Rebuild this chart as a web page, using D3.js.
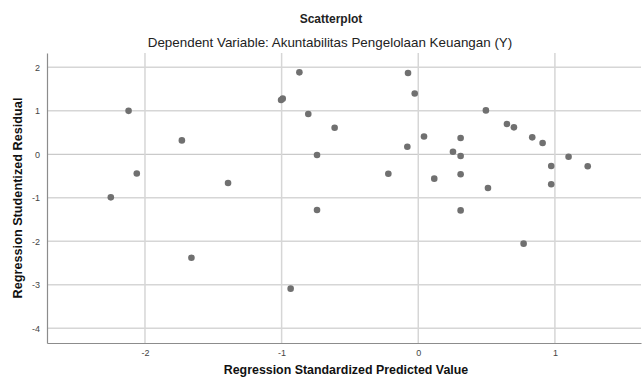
<!DOCTYPE html>
<html>
<head>
<meta charset="utf-8">
<script src="https://cdn.jsdelivr.net/npm/d3@7"></script>
<style>
  body { margin: 0; background: #fff; }
  svg { display: block; font-family: "Liberation Sans", Arial, sans-serif; }
</style>
</head>
<body>
<div class="chart"></div>
<script>
// Regression standardized predicted value (x) and studentized residual (y)
var predicted = [-2.12, -1.73, -2.06, -2.25, -1.66,
  -0.87, -0.075, -0.026, -1.004, -0.992,
  -0.805, -0.612, 0.042, -0.08, -0.741, -0.219, -1.392, -0.741, -0.934,
  0.31, 0.254, 0.31, 0.117, 0.31, 0.31, 0.495, 0.51, 0.649, 0.70,
  0.834, 0.91, 0.973, 0.973, 1.10, 1.24, 0.771];
var residual = [1.0, 0.32, -0.44, -0.99, -2.38,
  1.885, 1.87, 1.40, 1.25, 1.28,
  0.926, 0.61, 0.41, 0.175, -0.016, -0.446, -0.66, -1.28, -3.09,
  0.375, 0.06, -0.04, -0.56, -0.46, -1.29, 1.01, -0.775, 0.697, 0.62,
  0.39, 0.26, -0.27, -0.69, -0.055, -0.276, -2.055];
var xTicks = [-2, -1, 0, 1];
var yTicks = [2, 1, 0, -1, -2, -3, -4];

var W = 643, H = 378;
var margin = {top: 53, right: 2, bottom: 35, left: 47},
width = W - margin.left - margin.right,
height = H - margin.top - margin.bottom;

var svg = d3.select(".chart")
  .append("svg")
  .attr("width", W)
  .attr("height", H);

var g = svg.append("g")
  .attr("transform", "translate(" + margin.left + "," + margin.top + ")");

var x = d3.scaleLinear()
  .domain([-2.717, 1.63])
  .range([0, width]);

var y = d3.scaleLinear()
  .domain([-4.34, 2.33])
  .range([height, 0]);

// Grid lines
g.append("g")
  .selectAll("line")
  .data(yTicks)
  .enter().append("line")
    .attr("x1", 0)
    .attr("x2", width)
    .attr("y1", d => y(d))
    .attr("y2", d => y(d))
    .attr("stroke", d => d === 0 ? "#bdbdbd" : "#d6d6d6")
    .attr("stroke-width", d => d === 0 ? 1 : 1.5);

g.append("g")
  .selectAll("line")
  .data(xTicks)
  .enter().append("line")
    .attr("x1", d => x(d))
    .attr("x2", d => x(d))
    .attr("y1", 0)
    .attr("y2", height)
    .attr("stroke", "#d6d6d6")
    .attr("stroke-width", 1.5);

// Axes (plain hyphen for negatives, like the original)
var fmt = d => String(d);

g.append("g")
  .attr("transform", "translate(0," + height + ")")
  .call(d3.axisBottom(x).tickValues(xTicks).tickSize(0).tickPadding(7).tickFormat(fmt))
  .call(a => a.select(".domain").attr("stroke", "#8c8c8c").attr("stroke-width", 1.2))
  .call(a => a.selectAll(".tick text")
    .style("font-size", "9px")
    .attr("fill", "#444"));

g.append("g")
  .call(d3.axisLeft(y).tickValues(yTicks).tickSize(0).tickPadding(7).tickFormat(fmt))
  .call(a => a.select(".domain").attr("stroke", "#8c8c8c").attr("stroke-width", 1.2))
  .call(a => a.selectAll(".tick text")
    .style("font-size", "9px")
    .attr("fill", "#444"));

// Points
g.append("g")
  .selectAll("circle")
  .data(predicted)
  .enter().append("circle")
    .attr("cx", d => x(d))
    .attr("cy", (d, i) => y(residual[i]))
    .attr("r", 3.3)
    .attr("fill", "#707070");

// Titles
svg.append("text")
  .attr("x", 331)
  .attr("y", 23)
  .style("text-anchor", "middle")
  .style("font-size", "12px")
  .style("font-weight", "bold")
  .attr("fill", "#222")
  .text("Scatterplot");

svg.append("text")
  .attr("x", 330)
  .attr("y", 47)
  .style("text-anchor", "middle")
  .style("font-size", "13.4px")
  .attr("fill", "#222")
  .text("Dependent Variable: Akuntabilitas Pengelolaan Keuangan (Y)");

svg.append("text")
  .attr("x", 346)
  .attr("y", 374)
  .style("text-anchor", "middle")
  .style("font-size", "12.4px")
  .style("font-weight", "bold")
  .attr("fill", "#111")
  .text("Regression Standardized Predicted Value");

svg.append("text")
  .attr("transform", "rotate(-90)")
  .attr("x", -198)
  .attr("y", 22)
  .style("text-anchor", "middle")
  .style("font-size", "12.7px")
  .style("font-weight", "bold")
  .attr("fill", "#111")
  .text("Regression Studentized Residual");
</script>
</body>
</html>
